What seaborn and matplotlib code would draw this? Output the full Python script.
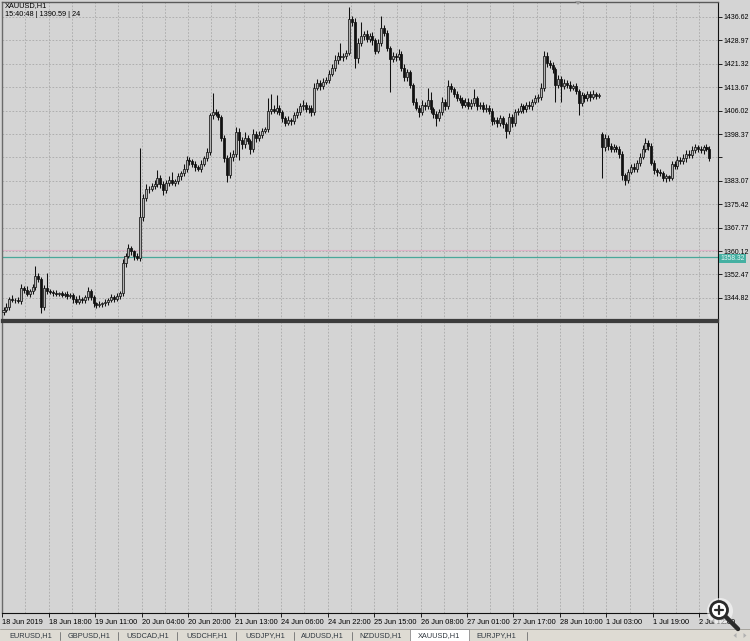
import numpy as np
import pandas as pd
import matplotlib
matplotlib.use("Agg")
import matplotlib.pyplot as plt
import seaborn as sns
from matplotlib.patches import Rectangle, Circle, Polygon
from matplotlib.lines import Line2D
from matplotlib.transforms import IdentityTransform, blended_transform_factory

# XAUUSD H1 closes (one value per hourly bar)
closes = [
    1341.0, 1342.0, 1344.5, 1344.0, 1344.2, 1343.8, 1348.0, 1347.5, 1346.0, 1347.0,
    1348.5, 1352.0, 1351.0, 1341.8, 1348.0, 1347.0, 1346.8, 1346.5, 1346.0, 1346.3,
    1345.8, 1346.0, 1345.5, 1345.8, 1344.5, 1343.5, 1344.5, 1344.0, 1345.0, 1347.0,
    1345.0, 1343.0, 1342.5, 1342.8, 1343.0, 1343.5, 1344.0, 1345.0, 1344.5, 1345.5,
    1346.5, 1356.2, 1358.5, 1361.0, 1360.0, 1358.5, 1358.0, 1371.3, 1377.5, 1380.3,
    1380.5, 1381.5, 1382.0, 1384.0, 1382.0, 1380.0, 1382.5, 1383.5, 1382.5, 1383.0,
    1384.5, 1385.5, 1387.0, 1390.0, 1389.5, 1388.5, 1387.5, 1387.0, 1388.5, 1390.5,
    1392.5, 1404.6, 1405.5, 1405.0, 1404.0, 1397.1, 1390.5, 1385.0, 1391.0, 1392.0,
    1399.0, 1396.5, 1395.0, 1397.0, 1396.0, 1393.5, 1398.5, 1397.0, 1398.0, 1399.5,
    1400.0, 1406.0, 1406.5, 1406.0, 1407.0, 1405.5, 1403.5, 1402.0, 1403.0, 1402.5,
    1404.5, 1405.5, 1407.5, 1408.0, 1406.5, 1407.0, 1405.5, 1413.5, 1415.0, 1414.0,
    1415.5, 1416.0, 1418.0, 1420.0, 1422.5, 1424.0, 1423.5, 1424.0, 1425.0, 1436.0,
    1435.0, 1423.2, 1428.0, 1430.5, 1431.0, 1429.5, 1430.5, 1429.0, 1425.5, 1428.0,
    1433.0, 1431.5, 1426.5, 1423.0, 1424.0, 1423.5, 1424.5, 1420.0, 1417.0, 1418.5,
    1414.5, 1409.0, 1407.0, 1405.5, 1408.0, 1407.5, 1409.5, 1406.5, 1405.0, 1403.5,
    1405.5, 1409.0, 1407.5, 1414.0, 1413.0, 1411.5, 1410.0, 1409.5, 1408.0, 1409.0,
    1407.5, 1408.5, 1410.0, 1407.5, 1408.0, 1406.5, 1407.0, 1406.0, 1402.5, 1403.0,
    1402.0, 1403.5, 1401.5, 1399.5, 1404.0, 1402.0, 1405.5, 1406.0, 1407.5, 1406.5,
    1408.0, 1407.5, 1409.0, 1410.0, 1410.5, 1413.5, 1424.0, 1421.5, 1421.0, 1419.5,
    1414.5, 1416.5, 1414.0, 1415.0, 1414.5, 1413.5, 1414.0, 1412.5, 1408.5, 1411.0,
    1410.0, 1411.5, 1410.5, 1411.5, 1410.8, 1411.0, 1394.0, 1397.0, 1394.5, 1393.5,
    1394.0, 1393.5, 1392.0, 1385.0, 1383.5, 1386.0, 1387.5, 1387.0, 1389.0, 1391.0,
    1393.5, 1395.5, 1394.5, 1389.0, 1386.5, 1386.0, 1385.5, 1384.0, 1384.5, 1384.0,
    1388.5, 1388.0, 1390.0, 1389.5, 1390.5, 1392.0, 1391.5, 1393.0, 1394.0, 1393.5,
    1393.0, 1394.0, 1393.5, 1390.6,
]

# wick length above / below the body of each bar
upper_wick = [
    0.8, 1.0, 0.6, 1.2, 0.5, 0.9, 1.4, 0.7, 1.1, 0.6,
    0.9, 3.1, 0.8, 0.5, 1.2, 5.0, 0.7, 0.6, 0.9, 0.5,
    0.8, 0.6, 1.0, 0.5, 0.7, 0.9, 1.3, 0.6, 0.8, 1.5,
    0.6, 0.7, 0.5, 0.9, 0.6, 0.8, 0.7, 1.1, 0.9, 0.8,
    0.7, 1.2, 1.0, 1.5, 0.8, 0.6, 0.9, 22.5, 1.2, 1.6,
    1.0, 0.8, 1.4, 2.5, 0.9, 1.1, 0.7, 1.3, 2.5, 0.8,
    1.1, 0.9, 1.5, 1.2, 0.8, 0.6, 1.0, 0.9, 1.3, 0.7,
    1.2, 0.8, 6.3, 1.0, 0.9, 0.7, 0.8, 1.1, 1.5, 1.0,
    1.8, 1.2, 0.9, 2.0, 1.1, 0.8, 1.6, 0.9, 1.3, 1.0,
    0.8, 4.0, 5.0, 1.2, 4.0, 1.0, 0.8, 0.9, 1.4, 0.7,
    1.1, 1.3, 0.9, 1.6, 0.8, 1.0, 0.7, 1.5, 1.2, 0.9,
    1.3, 1.0, 1.4, 1.2, 1.6, 1.1, 4.0, 1.0, 0.8, 4.0,
    1.0, 1.2, 1.8, 4.6, 1.1, 1.5, 0.9, 1.2, 0.8, 1.4,
    4.0, 1.0, 0.9, 0.8, 1.3, 1.0, 1.5, 0.9, 1.2, 1.0,
    0.8, 0.7, 1.1, 1.0, 1.4, 0.9, 3.9, 2.5, 0.8, 1.0,
    1.2, 1.5, 0.9, 2.0, 1.1, 0.8, 1.0, 1.2, 0.9, 1.1,
    1.0, 1.4, 3.0, 0.8, 1.0, 0.9, 1.2, 0.7, 0.8, 1.1,
    0.9, 1.0, 0.8, 0.9, 1.3, 1.0, 1.2, 0.9, 1.1, 0.8,
    1.0, 1.2, 0.9, 1.1, 0.8, 1.5, 1.5, 1.2, 1.0, 0.9,
    0.8, 1.3, 1.0, 1.2, 0.9, 1.1, 0.8, 1.0, 0.7, 1.2,
    0.9, 1.0, 0.8, 1.1, 0.7, 0.9, 0.5, 1.4, 1.0, 0.9,
    1.2, 0.8, 1.0, 0.9, 0.7, 1.1, 1.0, 1.3, 0.9, 1.2,
    1.4, 1.5, 1.0, 0.8, 0.9, 0.7, 1.0, 0.8, 0.9, 0.6,
    1.2, 1.0, 1.1, 0.9, 1.3, 1.0, 1.2, 1.5, 1.1, 0.9,
    1.0, 0.8, 1.2, 0.9,
]
lower_wick = [
    0.9, 0.7, 1.0, 0.6, 0.8, 0.5, 0.9, 1.2, 0.7, 1.0,
    0.8, 1.1, 0.9, 1.9, 1.0, 0.8, 0.6, 0.9, 0.7, 0.5,
    0.8, 0.6, 0.9, 0.7, 1.2, 0.8, 0.6, 1.0, 0.7, 0.9,
    0.8, 1.1, 0.9, 0.6, 0.8, 0.7, 0.9, 0.6, 1.0, 0.8,
    0.9, 1.0, 1.4, 0.8, 1.0, 1.2, 0.9, 1.1, 1.5, 1.0,
    1.3, 0.9, 1.1, 0.8, 1.2, 1.6, 0.9, 1.0, 0.8, 1.1,
    0.9, 1.2, 0.8, 1.0, 1.3, 0.9, 1.1, 0.8, 1.0, 0.7,
    0.9, 1.0, 1.2, 0.8, 1.1, 0.9, 1.3, 2.2, 1.0, 1.4,
    1.0, 6.5, 1.5, 1.2, 0.9, 1.6, 1.0, 1.2, 0.8, 1.0,
    0.9, 1.1, 1.0, 0.8, 1.2, 0.9, 1.3, 1.0, 0.8, 1.1,
    0.9, 1.0, 0.8, 1.2, 0.9, 1.1, 1.3, 1.0, 0.8, 1.2,
    1.0, 0.9, 1.1, 0.8, 1.0, 1.2, 0.9, 1.1, 1.0, 0.8,
    1.2, 3.2, 1.5, 1.0, 1.3, 0.9, 1.1, 1.4, 1.0, 0.8,
    1.0, 1.2, 0.9, 11.0, 1.1, 1.3, 0.9, 1.0, 1.2, 1.4,
    1.1, 1.3, 0.9, 1.5, 1.0, 1.2, 0.8, 1.1, 1.3, 2.5,
    1.0, 0.9, 1.2, 0.8, 1.0, 1.1, 0.9, 1.0, 1.2, 0.8,
    1.1, 0.9, 1.0, 1.2, 0.8, 1.0, 0.9, 1.1, 1.3, 1.0,
    1.2, 0.9, 1.1, 2.5, 1.0, 1.4, 0.9, 1.0, 0.8, 1.1,
    0.9, 1.0, 1.2, 0.8, 1.0, 0.9, 1.1, 1.3, 1.0, 1.2,
    5.7, 1.0, 5.0, 0.9, 1.1, 1.2, 0.8, 1.0, 3.8, 1.1,
    1.0, 0.9, 1.2, 0.8, 1.0, 0.7, 10.0, 1.2, 1.4, 1.0,
    0.9, 1.1, 1.3, 1.5, 1.9, 1.0, 0.8, 1.1, 0.9, 1.0,
    0.8, 1.0, 1.2, 0.9, 1.1, 1.3, 1.0, 0.9, 1.2, 1.0,
    0.8, 1.1, 0.9, 1.0, 0.8, 1.2, 0.9, 1.0, 0.8, 1.1,
    0.9, 1.0, 0.8, 1.2,
]
# bars whose open is not the previous close (first bar, Monday 1 Jul gap)
gap_opens = {0: 1340.2, 206: 1398.5}

price_ticks = [1436.62, 1428.97, 1421.32, 1413.67, 1406.02, 1398.37, 1390.72,
               1383.07, 1375.42, 1367.77, 1360.12, 1352.47, 1344.82]
time_labels = ["18 Jun 2019", "18 Jun 18:00", "19 Jun 11:00", "20 Jun 04:00",
               "20 Jun 20:00", "21 Jun 13:00", "24 Jun 06:00", "24 Jun 22:00",
               "25 Jun 15:00", "26 Jun 08:00", "27 Jun 01:00", "27 Jun 17:00",
               "28 Jun 10:00", "1 Jul 03:00", "1 Jul 19:00", "2 Jul 12:00"]
tabs = ["EURUSD,H1", "GBPUSD,H1", "USDCAD,H1", "USDCHF,H1", "USDJPY,H1",
        "AUDUSD,H1", "NZDUSD,H1", "XAUUSD,H1", "EURJPY,H1"]
hline_price = 1358.32
ask_price = 1360.45

df = pd.DataFrame({"close": closes, "up": upper_wick, "dn": lower_wick})
df["bar"] = np.arange(len(df))
df["open"] = df["close"].shift(1)
for k, v in gap_opens.items():
    df.loc[k, "open"] = v
df["high"] = df[["open", "close"]].max(axis=1) + df["up"]
df["low"] = df[["open", "close"]].min(axis=1) - df["dn"]
bull = df[df["close"] >= df["open"]]
bear = df[df["close"] < df["open"]]

BG = "#d4d4d4"
GRID = "#a8a8a8"
W, H = 750, 641
FS = 5.3

sns.set_theme(style="white", rc={"axes.facecolor": BG, "figure.facecolor": BG})
plt.rcParams["font.family"] = ["Liberation Sans", "DejaVu Sans"]
plt.rcParams["font.size"] = FS


def frac(x0, y0, x1, y1):
    return [x0 / W, 1 - y1 / H, (x1 - x0) / W, (y1 - y0) / H]


def px(x, y):
    return (x, H - y)


fig = plt.figure(figsize=(7.5, 6.41), dpi=100)
ax = fig.add_axes(frac(2, 2, 718, 320))
sub = fig.add_axes(frac(2, 321.5, 718, 613))

xlim = (-0.52, 245.96)
major = np.arange(0, 241, 16) - 0.45
minor = np.arange(0, 246, 8) - 0.45

# candles
ax.vlines(df["bar"], df["low"], df["high"], color="#111111", lw=0.75, zorder=3)
ax.bar(bull["bar"], bull["close"] - bull["open"], bottom=bull["open"], width=0.7,
       color="#b4b4b4", edgecolor="#161616", linewidth=0.55, zorder=4)
ax.bar(bear["bar"], bear["open"] - bear["close"], bottom=bear["close"], width=0.7,
       color="#111111", edgecolor="#111111", linewidth=0.55, zorder=4)

ax.axhline(ask_price, color="#dcb4c8", lw=0.8, zorder=2)
ax.axhline(hline_price, color="#4aa89a", lw=0.9, zorder=2)

ax.set_xlim(*xlim)
ax.set_ylim(1337.60, 1441.52)
ax.set_yticks(price_ticks)
ax.set_yticklabels([("" if p == 1390.72 else f"{p:.2f}") for p in price_ticks])
ax.set_xticks(minor)
ax.yaxis.tick_right()
ax.tick_params(axis="y", right=True, left=False, labelright=True, length=3,
               width=0.6, pad=1.0, colors="black", labelsize=5.0)
ax.tick_params(axis="x", bottom=False, labelbottom=False)
ax.grid(True, color=GRID, linestyle=(0, (2, 2)), lw=0.6, zorder=0)
ax.set_axisbelow(True)

lbl_tr = blended_transform_factory(ax.transAxes, ax.transData)
ax.text(1.003, hline_price - 0.6, f"{hline_price:.2f}", transform=lbl_tr, fontsize=4.9,
        color="#e8f6f4", va="center", ha="left", clip_on=False,
        bbox=dict(boxstyle="square,pad=0.2", fc="#45b0a2", ec="none"))

# empty indicator sub-window
sub.set_xlim(*xlim)
sub.set_ylim(0, 1)
sub.set_yticks([])
sub.set_xticks(major)
sub.set_xticklabels(time_labels)
sub.set_xticks(minor, minor=True)
for t in sub.get_xticklabels():
    t.set_ha("left")
sub.tick_params(axis="x", which="major", bottom=True, length=3, width=0.6,
                pad=1.5, colors="black", labelsize=FS)
sub.tick_params(axis="x", which="minor", bottom=False)
sub.grid(True, axis="x", which="both", color=GRID, linestyle=(0, (2, 2)), lw=0.6)

for a in (ax, sub):
    a.spines["right"].set_color("#111111")
    a.spines["right"].set_linewidth(0.8)
    a.spines["left"].set_color("#6a6a6a")
    a.spines["left"].set_linewidth(1.0)
    a.spines["bottom"].set_color("#111111")
    a.spines["bottom"].set_linewidth(0.8)
ax.spines["top"].set_color("#5a5a5a")
ax.spines["top"].set_linewidth(1.0)
ax.spines["bottom"].set_color("#3c3c3c")
ax.spines["bottom"].set_linewidth(1.6)
sub.spines["top"].set_color("#3c3c3c")
sub.spines["top"].set_linewidth(1.6)

# header text
fig.text(5 / W, 1 - 6 / H, "XAUUSD,H1", fontsize=FS, va="center", ha="left", color="black")
fig.text(5 / W, 1 - 15 / H, "15:40:48 | 1390.59 | 24", fontsize=FS, va="center",
         ha="left", color="black")

ident = IdentityTransform()
fig.patches.append(Polygon([px(575, 1), px(581, 1), px(578, 5)], closed=True,
                           fc="#9a9a9a", ec="none", transform=ident, zorder=5))

# tab bar
fig.patches.append(Rectangle(px(0, 641), W, 12, fc="#dedbd3", ec="none",
                             transform=ident, zorder=4))
fig.lines.append(Line2D([0, W], [H - 629, H - 629], color="#9c9a94", lw=0.6,
                        transform=ident, zorder=5))
fig.patches.append(Rectangle(px(410, 641), 59, 12, fc="white", ec="#8c8c8c", lw=0.6,
                             transform=ident, zorder=5))
tab_x = [31, 89, 148, 207, 265, 322, 381, 439, 496]
for name, cx in zip(tabs, tab_x):
    fig.text(cx / W, 1 - 636 / H, name, fontsize=FS, ha="center", va="center",
             color="#303840", zorder=6)
for sx in [60, 118, 177, 236, 294, 352, 527]:
    fig.lines.append(Line2D([sx, sx], [H - 640, H - 632], color="#707070", lw=0.6,
                            transform=ident, zorder=6))
for ax_x, d in [(735, -1), (745, 1)]:
    fig.patches.append(Polygon([px(ax_x - 1.5 * d, 633), px(ax_x - 1.5 * d, 638),
                                px(ax_x + 1.5 * d, 635.5)], closed=True, fc="#b0b0b0",
                               ec="none", transform=ident, zorder=6))

# viewer zoom icon overlay
fig.patches.append(Circle(px(720, 611), 13, fc="white", ec="none", alpha=0.55,
                          transform=ident, zorder=7))
fig.lines.append(Line2D([726, 738], [H - 617, H - 629], color="#2a2a2a", lw=3.2,
                        solid_capstyle="round", transform=ident, zorder=8))
fig.patches.append(Circle(px(719, 610), 8.5, fc="white", ec="#2a2a2a", lw=2.0,
                          transform=ident, zorder=8))
fig.lines.append(Line2D([715, 723], [H - 610, H - 610], color="#2a2a2a", lw=1.6,
                        transform=ident, zorder=9))
fig.lines.append(Line2D([719, 719], [H - 606, H - 614], color="#2a2a2a", lw=1.6,
                        transform=ident, zorder=9))

fig.savefig("out.png", dpi=100, facecolor=BG)
